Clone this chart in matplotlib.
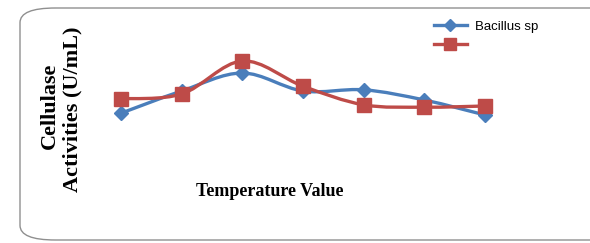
import matplotlib.pyplot as plt
from matplotlib.path import Path
from matplotlib.patches import PathPatch, FancyBboxPatch
from matplotlib.lines import Line2D

# temperature steps (no tick labels shown in the original)
temps = [1, 2, 3, 4, 5, 6, 7]
bacillus = [0.28, 0.65, 0.95, 0.65, 0.67, 0.50, 0.25]
second = [0.52, 0.60, 1.15, 0.73, 0.42, 0.38, 0.40]
labels = ['Bacillus sp', '']

blue = '#4a7ebb'
red = '#be4b48'


def smooth_path(xs, ys):
    # excel-like smoothed line: catmull-rom segments as cubic beziers
    pts = list(zip(xs, ys))
    n = len(pts)
    verts = [pts[0]]
    codes = [Path.MOVETO]
    for i in range(n - 1):
        p0 = pts[i - 1] if i > 0 else pts[i]
        p1 = pts[i]
        p2 = pts[i + 1]
        p3 = pts[i + 2] if i + 2 < n else pts[i + 1]
        c1 = (p1[0] + (p2[0] - p0[0]) / 6, p1[1] + (p2[1] - p0[1]) / 6)
        c2 = (p2[0] - (p3[0] - p1[0]) / 6, p2[1] - (p3[1] - p1[1]) / 6)
        verts += [c1, c2, p2]
        codes += [Path.CURVE4] * 3
    return Path(verts, codes)


fig = plt.figure(figsize=(5.9, 2.43), dpi=100)

# rounded frame around the chart
frame = FancyBboxPatch((20 / 590, 3 / 243), 1.2, 232 / 243,
                       boxstyle='round,pad=0,rounding_size=0.06',
                       transform=fig.transFigure, fill=False,
                       edgecolor='#8f8f8f', linewidth=1.0)
fig.patches.append(frame)

ax = fig.add_axes([121 / 590, 1 - 130 / 243, (485 - 121) / 590, 90 / 243])
ax.set_xlim(1, 7)
ax.set_ylim(0, 1.5)
ax.axis('off')

for ys, col, mk, ms in [(bacillus, blue, 'D', 7), (second, red, 's', 10)]:
    ax.add_patch(PathPatch(smooth_path(temps, ys), fill=False,
                           edgecolor=col, linewidth=2.4, clip_on=False))
    ax.plot(temps, ys, linestyle='none', marker=mk, markersize=ms,
            color=col, clip_on=False)

handles = [Line2D([], [], color=blue, lw=2.4, marker='D', markersize=6),
           Line2D([], [], color=red, lw=2.4, marker='s', markersize=9)]
fig.legend(handles, labels, loc='upper left',
           bbox_to_anchor=(422 / 590, 1 - 9 / 243), frameon=False,
           prop={'family': 'Liberation Sans', 'size': 9.5},
           handlelength=2.5, labelspacing=0.5, handletextpad=0.6)

fig.text(50 / 590, 1 - 106 / 243, 'Cellulase', rotation=90, ha='center',
         va='center', family='Liberation Serif', weight='bold', fontsize=16)
fig.text(72 / 590, 1 - 109 / 243, 'Activities (U/mL)', rotation=90,
         ha='center', va='center', family='Liberation Serif', weight='bold',
         fontsize=16)
fig.text(270 / 590, 1 - 192 / 243, 'Temperature Value', ha='center',
         va='center', family='Liberation Serif', weight='bold', fontsize=13)

plt.savefig('out.png', dpi=100)
